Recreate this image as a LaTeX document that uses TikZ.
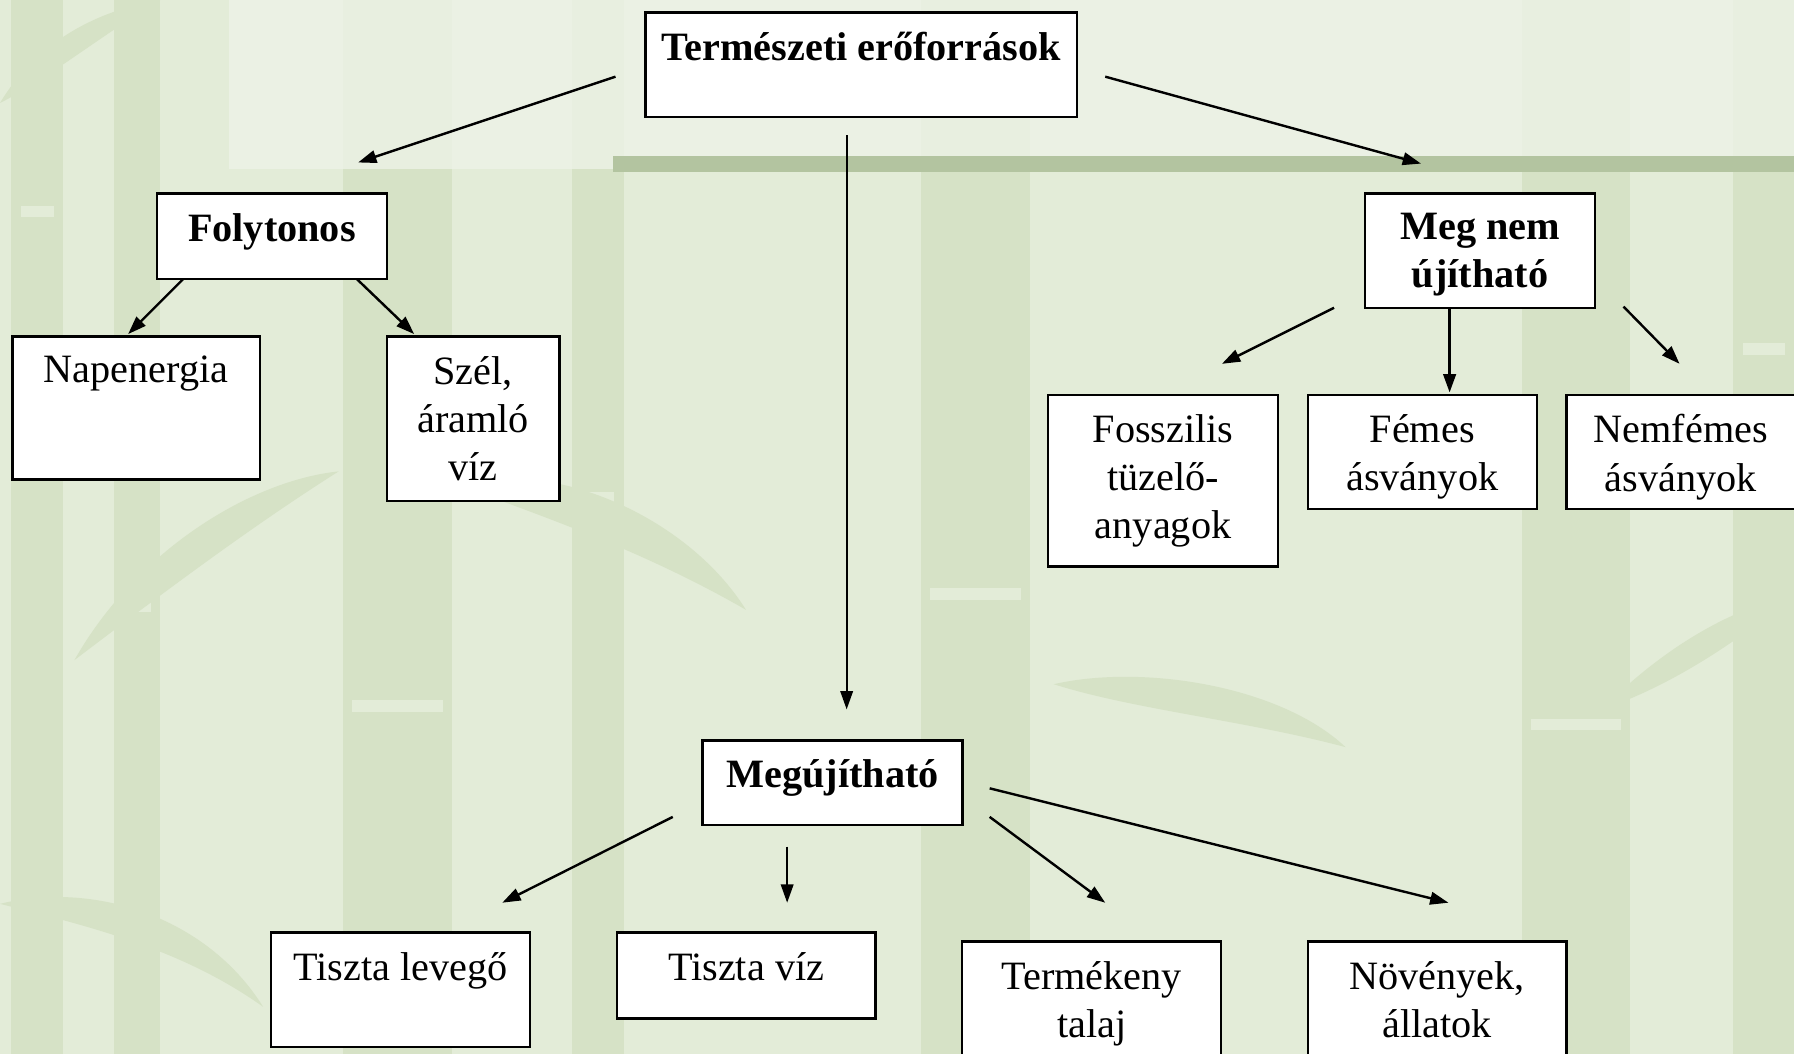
\documentclass[tikz,border=0pt]{standalone}
\usepackage{fontspec}
\setmainfont{Liberation Serif}
\usetikzlibrary{arrows.meta}

\definecolor{bgbase}{HTML}{E3ECD8}
\definecolor{bglight}{HTML}{EDF3E7}
\definecolor{bamboo}{HTML}{D6E2C6}
\definecolor{bandgreen}{HTML}{B3C4A0}

\tikzset{
  tbox/.style={draw=black, fill=white, line width=0.6pt, anchor=north west, inner sep=0pt},
  txt/.style={anchor=north, align=center, inner sep=5pt, font=\fontsize{10}{12}\selectfont},
  btxt/.style={txt, font=\fontsize{10}{12}\selectfont\bfseries},
  arr/.style={-{Triangle[length=1.6mm,width=1.1mm]}, line width=0.6pt},
}

\begin{document}
\begin{tikzpicture}[x=0.01cm, y=-0.01cm]
% Background and bamboo
\fill[bgbase] (0,0) rectangle (1568,921);
\clip (0,0) rectangle (1568,921);
\foreach \xa/\xb/\j in {10/55/180, 100/140/525, 300/395/612, 500/545/430, 805/900/514, 1330/1425/628, 1515/1568/300} {
  \fill[bamboo] (\xa,0) rectangle (\xb,921);
  \fill[bgbase] (\xa+8,\j) rectangle (\xb-8,\j+10);
}
\fill[bamboo] (401,424) .. controls (480,400) and (600,450) .. (652,533) .. controls (560,480) and (470,450) .. cycle;
\fill[bamboo] (65,577) .. controls (120,480) and (220,420) .. (296,412) .. controls (220,460) and (140,520) .. cycle;
\fill[bamboo] (921,598) .. controls (1000,580) and (1120,600) .. (1176,653) .. controls (1090,630) and (990,620) .. cycle;
\fill[bamboo] (0,90) .. controls (30,40) and (80,10) .. (140,0) .. controls (90,30) and (40,70) .. cycle;
\fill[bamboo] (0,790) .. controls (80,770) and (180,800) .. (230,880) .. controls (160,830) and (80,810) .. cycle;
\fill[bamboo] (1400,620) .. controls (1460,560) and (1520,530) .. (1568,520) .. controls (1520,560) and (1460,600) .. cycle;
\fill[bglight, opacity=0.8] (200,0) rectangle (1568,148);
\fill[bandgreen] (536,136) rectangle (1568,150);

% Boxes
\node[tbox, minimum width=3.77cm, minimum height=0.91cm, label={[btxt]north:Természeti erőforrások}] (top) at (563,10) {};
\node[tbox, minimum width=2.01cm, minimum height=0.75cm, label={[btxt]north:Folytonos}] (fol) at (136,168) {};
\node[tbox, minimum width=2.01cm, minimum height=1.00cm, label={[btxt]north:{Meg nem\\újítható}}] (mnu) at (1192,168) {};
\node[tbox, minimum width=2.16cm, minimum height=1.25cm, label={[txt]north:Napenergia}] (nap) at (10,293) {};
\node[tbox, minimum width=1.51cm, minimum height=1.44cm, label={[txt]north:{Szél,\\áramló\\víz}}] (szel) at (337,293) {};
\node[tbox, minimum width=2.01cm, minimum height=1.50cm, label={[txt]north:{Fosszilis\\tüzelő-\\anyagok}}] (foss) at (915,344) {};
\node[tbox, minimum width=2.00cm, minimum height=1.00cm, label={[txt]north:{Fémes\\ásványok}}] (fem) at (1142,344) {};
\node[tbox, minimum width=2.00cm, minimum height=1.00cm, label={[txt]north:{Nemfémes\\ásványok}}] (nfem) at (1368,344) {};
\node[tbox, minimum width=2.27cm, minimum height=0.74cm, label={[btxt]north:Megújítható}] (meg) at (613,646) {};
\node[tbox, minimum width=2.26cm, minimum height=1.00cm, label={[txt]north:Tiszta levegő}] (lev) at (236,814) {};
\node[tbox, minimum width=2.26cm, minimum height=0.75cm, label={[txt]north:Tiszta víz}] (viz) at (538,814) {};
\node[tbox, minimum width=2.26cm, minimum height=1.10cm, label={[txt]north:{Termékeny\\talaj}}] (tal) at (840,822) {};
\node[tbox, minimum width=2.26cm, minimum height=1.10cm, label={[txt]north:{Növények,\\állatok}}] (nov) at (1142,822) {};

% Arrow ends
\foreach \n/\x/\y in {a1/538/67, a2/313/142, b1/966/67, b2/1242/143, c1/740/118, c2/740/620,
  d1/160/244, d2/112/292, e1/312/244, e2/362/292, f1/1166/269, f2/1068/318,
  g1/1267/269, g2/1267/343, h1/1419/268, h2/1468/318, i1/588/714, i2/439/789,
  j1/688/740, j2/688/789, k1/865/714, k2/966/789, l1/865/689, l2/1266/789}
  \coordinate (\n) at (\x,\y);

% Arrows
\foreach \s in {a,b,d,e,f,g,h,i,k,l}
  \draw[arr] (\s1) -- (\s2);
\draw[arr, line width=0.45pt] (c1) -- (c2);
\draw[arr, line width=0.45pt] (j1) -- (j2);
\end{tikzpicture}
\end{document}
